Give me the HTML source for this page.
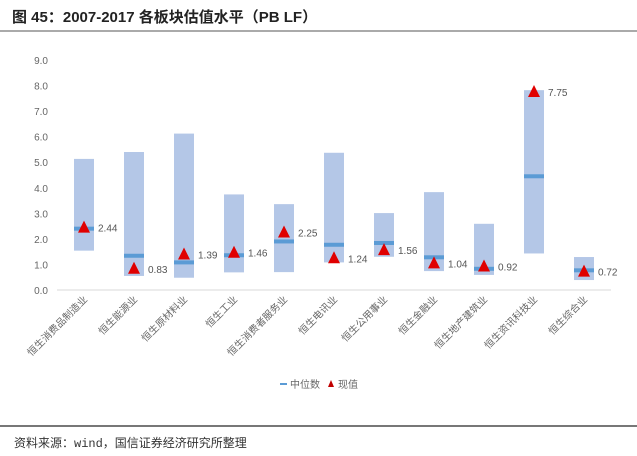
<!DOCTYPE html>
<html><head><meta charset="utf-8"><style>
body{margin:0;background:#fff;width:637px;height:451px;overflow:hidden;font-family:"Liberation Sans","Noto Sans CJK SC",sans-serif}
</style></head><body>
<svg width="637" height="451" xmlns="http://www.w3.org/2000/svg">
<text x="12" y="22" font-size="15" font-weight="bold" fill="#222" font-family="'Liberation Sans','Noto Sans CJK SC',sans-serif">图 45：2007-2017 各板块估值水平（PB LF）</text>
<line x1="0" y1="31" x2="637" y2="31" stroke="#555" stroke-width="1"/>
<g id="plot"></g>
<line x1="0" y1="426" x2="637" y2="426" stroke="#777" stroke-width="2"/>
<text x="14" y="447" font-size="12" fill="#333" font-family="'Liberation Mono','Noto Sans CJK SC',monospace">资料来源：wind，国信证券经济研究所整理</text>
</svg>
<script>
const categories=["恒生消费品制造业","恒生能源业","恒生原材料业","恒生工业","恒生消费者服务业","恒生电讯业","恒生公用事业","恒生金融业","恒生地产建筑业","恒生资讯科技业","恒生综合业"];
const highs=[5.13,5.40,6.12,3.74,3.36,5.37,3.01,3.83,2.59,7.82,1.29];
const lows=[1.54,0.55,0.48,0.69,0.70,1.08,1.30,0.74,0.59,1.43,0.39];
const medians=[2.40,1.34,1.08,1.36,1.90,1.77,1.84,1.28,0.83,4.45,0.77];
const currents=[2.44,0.83,1.39,1.46,2.25,1.24,1.56,1.04,0.92,7.75,0.72];
const ticks=[0,1,2,3,4,5,6,7,8,9];
const NS="http://www.w3.org/2000/svg";
const g=document.getElementById('plot');
const x0=59,band=50,yBase=290,yTop=60,vMax=9;
const y=v=>yBase-(v/vMax)*(yBase-yTop);
const xc=i=>x0+band*(i+0.5);
function mk(t,a){const e=document.createElementNS(NS,t);for(const k in a)e.setAttribute(k,a[k]);g.appendChild(e);return e;}
ticks.forEach(t=>{const e=mk('text',{x:48,y:y(t)+4,'font-size':10,fill:'#666','text-anchor':'end'});e.textContent=t.toFixed(1);

});
const ax=mk('line',{x1:57,y1:yBase,x2:611,y2:yBase,stroke:'#d9d9d9'});


categories.forEach((c,i)=>{
const cx=xc(i);
const r=mk('rect',{x:cx-10,y:y(highs[i]),width:20,height:y(lows[i])-y(highs[i]),fill:'#b4c7e7'});


const m=mk('rect',{x:cx-10,y:y(medians[i])-2,width:20,height:4,fill:'#5b9bd5'});


const ty=y(currents[i]);
const tr=mk('polygon',{points:`${cx},${ty-7} ${cx-6},${ty+5} ${cx+6},${ty+5}`,fill:'#e00000'});


const vl=mk('text',{x:cx+14,y:ty+4,'font-size':10,fill:'#555'});vl.textContent=currents[i].toFixed(2);


const lb=mk('text',{x:cx+4,y:yBase+10,'font-size':10,fill:'#666','text-anchor':'end',transform:`rotate(-45 ${cx+4} ${yBase+10})`});lb.textContent=c;


});
const l1=mk('rect',{x:280,y:383,width:7,height:2,fill:'#5b9bd5'});


const l2=mk('text',{x:290,y:388,'font-size':10,fill:'#666'});l2.textContent='中位数';


const l3=mk('polygon',{points:'331,380 328,387 334,387',fill:'#c00000'});


const l4=mk('text',{x:338,y:388,'font-size':10,fill:'#666'});l4.textContent='现值';


</script>
</body></html>
